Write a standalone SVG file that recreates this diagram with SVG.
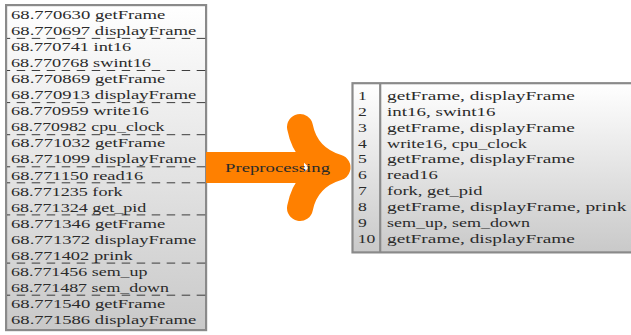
<svg xmlns="http://www.w3.org/2000/svg" width="631" height="335" viewBox="0 0 631 335">
<defs>
<linearGradient id="gfill" x1="0" y1="0" x2="0" y2="1">
<stop offset="0" stop-color="#ffffff"/>
<stop offset="1" stop-color="#c9c9c9"/>
</linearGradient>
<style>
.box{fill:url(#gfill);stroke:#8a8a8a;stroke-width:2.2}
.div{stroke:#8a8a8a;stroke-width:2.2}
.t{font-family:"Liberation Serif","DejaVu Serif",serif;font-size:13px;fill:#2a2a2a}
.dash{stroke:#2a2a2a;stroke-width:0.9;stroke-dasharray:8.5 6.5;stroke-dashoffset:5.3}
.arm{fill:none;stroke:#ff8000;stroke-width:26;stroke-linecap:round;stroke-linejoin:round}
</style>
</defs>
<rect width="631" height="335" fill="#ffffff"/>
<g id="trace-log">
<rect class="box" x="6.1" y="5.1" width="200" height="325"/>
<g class="dashes">
<line class="dash" x1="7" y1="38.4" x2="206" y2="38.4"/>
<line class="dash" x1="7" y1="70.5" x2="206" y2="70.5"/>
<line class="dash" x1="7" y1="102.6" x2="206" y2="102.6"/>
<line class="dash" x1="7" y1="134.7" x2="206" y2="134.7"/>
<line class="dash" x1="7" y1="166.8" x2="206" y2="166.8"/>
<line class="dash" x1="7" y1="182.8" x2="206" y2="182.8"/>
<line class="dash" x1="7" y1="214.9" x2="206" y2="214.9"/>
<line class="dash" x1="7" y1="263.1" x2="206" y2="263.1"/>
<line class="dash" x1="7" y1="295.2" x2="206" y2="295.2"/>
</g>
<text class="t" x="11" y="19" textLength="154.3" lengthAdjust="spacingAndGlyphs">68.770630 getFrame</text>
<text class="t" x="11" y="35.05" textLength="185.2" lengthAdjust="spacingAndGlyphs">68.770697 displayFrame</text>
<text class="t" x="11" y="51.1" textLength="120.3" lengthAdjust="spacingAndGlyphs">68.770741 int16</text>
<text class="t" x="11" y="67.15" textLength="139.9" lengthAdjust="spacingAndGlyphs">68.770768 swint16</text>
<text class="t" x="11" y="83.2" textLength="154.3" lengthAdjust="spacingAndGlyphs">68.770869 getFrame</text>
<text class="t" x="11" y="99.25" textLength="185.2" lengthAdjust="spacingAndGlyphs">68.770913 displayFrame</text>
<text class="t" x="11" y="115.3" textLength="137.9" lengthAdjust="spacingAndGlyphs">68.770959 write16</text>
<text class="t" x="11" y="131.35" textLength="153.5" lengthAdjust="spacingAndGlyphs">68.770982 cpu_clock</text>
<text class="t" x="11" y="147.4" textLength="154.3" lengthAdjust="spacingAndGlyphs">68.771032 getFrame</text>
<text class="t" x="11" y="163.45" textLength="185.2" lengthAdjust="spacingAndGlyphs">68.771099 displayFrame</text>
<text class="t" x="11" y="179.5" textLength="132.1" lengthAdjust="spacingAndGlyphs">68.771150 read16</text>
<text class="t" x="11" y="195.55" textLength="111.5" lengthAdjust="spacingAndGlyphs">68.771235 fork</text>
<text class="t" x="11" y="211.6" textLength="135.4" lengthAdjust="spacingAndGlyphs">68.771324 get_pid</text>
<text class="t" x="11" y="227.65" textLength="154.3" lengthAdjust="spacingAndGlyphs">68.771346 getFrame</text>
<text class="t" x="11" y="243.7" textLength="185.2" lengthAdjust="spacingAndGlyphs">68.771372 displayFrame</text>
<text class="t" x="11" y="259.75" textLength="121.8" lengthAdjust="spacingAndGlyphs">68.771402 prink</text>
<text class="t" x="11" y="275.8" textLength="136.5" lengthAdjust="spacingAndGlyphs">68.771456 sem_up</text>
<text class="t" x="11" y="291.85" textLength="158" lengthAdjust="spacingAndGlyphs">68.771487 sem_down</text>
<text class="t" x="11" y="307.9" textLength="154.3" lengthAdjust="spacingAndGlyphs">68.771540 getFrame</text>
<text class="t" x="11" y="323.95" textLength="185.2" lengthAdjust="spacingAndGlyphs">68.771586 displayFrame</text>
</g>
<g id="connectors">
<g id="preprocessing-arrow">
<rect x="206" y="152" width="98" height="31" fill="#ff8000"/>
<path class="arm" d="M 300 127 Q 306 158 337.5 167.5 Q 306 177 300 208"/>
<text class="t" x="225" y="171.5" textLength="105" lengthAdjust="spacingAndGlyphs">Preprocessing</text>
</g>
</g>
<g id="preprocessed-table">
<rect class="box" x="352.5" y="83.2" width="300" height="169.2"/>
<line class="div" x1="380.2" y1="83.2" x2="380.2" y2="252.4"/>
<text class="t" x="358" y="100" textLength="8.8" lengthAdjust="spacingAndGlyphs">1</text>
<text class="t" x="358" y="115.86" textLength="8.8" lengthAdjust="spacingAndGlyphs">2</text>
<text class="t" x="358" y="131.7" textLength="8.8" lengthAdjust="spacingAndGlyphs">3</text>
<text class="t" x="358" y="147.6" textLength="8.8" lengthAdjust="spacingAndGlyphs">4</text>
<text class="t" x="358" y="163.4" textLength="8.8" lengthAdjust="spacingAndGlyphs">5</text>
<text class="t" x="358" y="179.3" textLength="8.8" lengthAdjust="spacingAndGlyphs">6</text>
<text class="t" x="358" y="195.2" textLength="8.8" lengthAdjust="spacingAndGlyphs">7</text>
<text class="t" x="358" y="211" textLength="8.8" lengthAdjust="spacingAndGlyphs">8</text>
<text class="t" x="358" y="226.9" textLength="8.8" lengthAdjust="spacingAndGlyphs">9</text>
<text class="t" x="357.8" y="242.7" textLength="17.6" lengthAdjust="spacingAndGlyphs">10</text>
<text class="t" x="387" y="100" textLength="187.9" lengthAdjust="spacingAndGlyphs">getFrame, displayFrame</text>
<text class="t" x="387" y="115.86" textLength="108.6" lengthAdjust="spacingAndGlyphs">int16, swint16</text>
<text class="t" x="387" y="131.7" textLength="187.9" lengthAdjust="spacingAndGlyphs">getFrame, displayFrame</text>
<text class="t" x="387" y="147.6" textLength="139.8" lengthAdjust="spacingAndGlyphs">write16, cpu_clock</text>
<text class="t" x="387" y="163.4" textLength="187.9" lengthAdjust="spacingAndGlyphs">getFrame, displayFrame</text>
<text class="t" x="387" y="179.3" textLength="50.9" lengthAdjust="spacingAndGlyphs">read16</text>
<text class="t" x="387" y="195.2" textLength="95.4" lengthAdjust="spacingAndGlyphs">fork, get_pid</text>
<text class="t" x="387" y="211" textLength="239.4" lengthAdjust="spacingAndGlyphs">getFrame, displayFrame, prink</text>
<text class="t" x="387" y="226.9" textLength="142.9" lengthAdjust="spacingAndGlyphs">sem_up, sem_down</text>
<text class="t" x="387" y="242.7" textLength="187.9" lengthAdjust="spacingAndGlyphs">getFrame, displayFrame</text>
</g>
</svg>
